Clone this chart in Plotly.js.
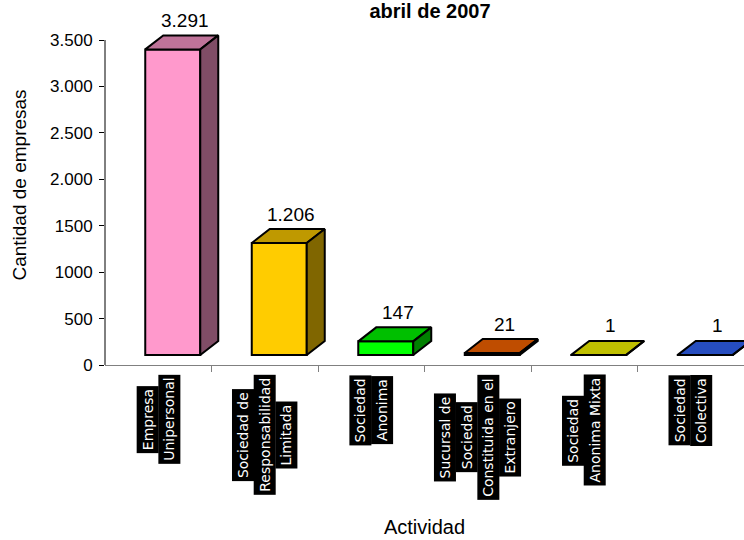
<!DOCTYPE html>
<html><head><meta charset="utf-8">
<script src="https://cdn.plot.ly/plotly-3.0.1.min.js"></script>
<style>html,body{margin:0;padding:0;background:#fff}#chart{width:744px;height:540px}</style>
</head><body><div id="chart"></div>
<script>
// ---- data ----
const categoryLines = [
  ["Empresa", "Unipersonal"],
  ["Sociedad de", "Responsabilidad", "Limitada"],
  ["Sociedad", "Anonima"],
  ["Sucursal de", "Sociedad", "Constituida en el", "Extranjero"],
  ["Sociedad", "Anonima Mixta"],
  ["Sociedad", "Colectiva"]
];
const values = [3291, 1206, 147, 21, 1, 1];
const yTickVals = [0, 500, 1000, 1500, 2000, 2500, 3000, 3500];
const yTickText = ["0", "500", "1000", "1500", "2.000", "2.500", "3.000", "3.500"];

// ---- style ----
const frontColors = ["#FF99CC", "#FFCC00", "#00FF00", "#FF6600", "#FFFF00", "#3366FF"];
function shade(hex, f) {
  const n = parseInt(hex.slice(1), 16);
  const r = Math.round(((n >> 16) & 255) * f), g = Math.round(((n >> 8) & 255) * f), b = Math.round((n & 255) * f);
  return "rgb(" + r + "," + g + "," + b + ")";
}
function fmt(v) { return String(v).replace(/\B(?=(\d{3})+(?!\d))/g, "."); }

const FONT = "Liberation Sans, Arial, sans-serif";
const M = {l: 105, r: 0, t: 5, b: 175};
const plotH = 540 - M.t - M.b;          // 360
const plotW = 744 - M.l - M.r;          // 639
const yMax = 3500 * plotH / 325;        // 3500 sits 325px above zero
const pxY = plotH / yMax;
const pxX = plotW / 6;
const base = 10 / pxY;                  // 3D floor lift
const depthY = 14 / pxY;
const depthX = 18 / pxX;
const barOff = -13 / pxX;
const barW = 55 / pxX;

const traces = [];
traces.push({
  type: "bar", x: values.map((v, i) => i), y: values, base: values.map(() => base),
  offset: barOff, width: barW,
  marker: {color: frontColors, line: {color: "#000", width: 2}},
  hoverinfo: "skip", showlegend: false
});
values.forEach((v, i) => {
  const xl = i + barOff, xr = xl + barW, top = base + v;
  traces.push({
    type: "scatter", mode: "lines", fill: "toself", fillcolor: shade(frontColors[i], 0.75),
    x: [xl, xr, xr + depthX, xl + depthX, xl], y: [top, top, top + depthY, top + depthY, top],
    line: {color: "#000", width: 2}, hoverinfo: "skip", showlegend: false
  });
  traces.push({
    type: "scatter", mode: "lines", fill: "toself", fillcolor: shade(frontColors[i], 0.5),
    x: [xr, xr, xr + depthX, xr + depthX, xr], y: [base, top, top + depthY, base + depthY, base],
    line: {color: "#000", width: 2}, hoverinfo: "skip", showlegend: false
  });
});

const annotations = [];
values.forEach((v, i) => {
  annotations.push({
    xref: "x", yref: "y", x: i + 0.25, y: v, yshift: 39, text: fmt(v), showarrow: false,
    xanchor: "center", yanchor: "middle", font: {family: FONT, size: 19, color: "#000"}
  });
});
const ctx = document.createElement("canvas").getContext("2d");
ctx.font = '14px "DejaVu Sans"';
const labPad = 3, lineStep = 21.7 / pxX, labelTopPx = 375;
categoryLines.forEach((lines, i) => {
  const maxLen = Math.max(...lines.map(s => ctx.measureText(s).width)) + 2 * labPad;
  const cy = labelTopPx + maxLen / 2;
  const yPaper = (M.t + plotH - cy) / plotH;
  lines.forEach((s, j) => {
    annotations.push({
      xref: "x", yref: "paper", x: i + (j - (lines.length - 1) / 2) * lineStep, y: yPaper,
      text: s, textangle: -90, showarrow: false, xanchor: "center", yanchor: "middle",
      bgcolor: "#000", borderpad: labPad, borderwidth: 0,
      font: {family: "DejaVu Sans", size: 14, color: "#fff"}
    });
  });
});

const layout = {
  width: 744, height: 540, margin: M,
  paper_bgcolor: "#fff", plot_bgcolor: "#fff",
  font: {family: FONT, color: "#000"},
  showlegend: false, hovermode: false,
  title: {text: "abril de 2007", xref: "container", yref: "container", x: 430 / 744, xanchor: "center",
          y: 1 - 11 / 540, yanchor: "middle", font: {family: FONT, size: 20, weight: "bold", color: "#000"}},
  xaxis: {range: [-0.5, 5.5], showgrid: false, zeroline: false, showline: true, linecolor: "#808080", linewidth: 1,
          tickvals: [0.5, 1.5, 2.5, 3.5, 4.5], ticks: "outside", ticklen: 6, tickcolor: "#808080",
          showticklabels: false, fixedrange: true,
          title: {text: "Actividad", font: {family: FONT, size: 20}, standoff: 148}},
  yaxis: {range: [0, yMax], showgrid: false, zeroline: false, showline: false,
          tickvals: yTickVals, ticktext: yTickText, ticks: "outside", ticklen: 5, tickcolor: "#000",
          tickfont: {family: FONT, size: 17}, ticklabelstandoff: 3, fixedrange: true,
          title: {text: "Cantidad de empresas", font: {family: FONT, size: 19}, standoff: 18}},
  shapes: [{type: "line", xref: "paper", yref: "y", x0: 0, x1: 0, y0: 0, y1: 3500, line: {color: "#000", width: 1}}],
  annotations: annotations
};
Plotly.newPlot("chart", traces, layout, {displayModeBar: false, staticPlot: true});
</script></body></html>
